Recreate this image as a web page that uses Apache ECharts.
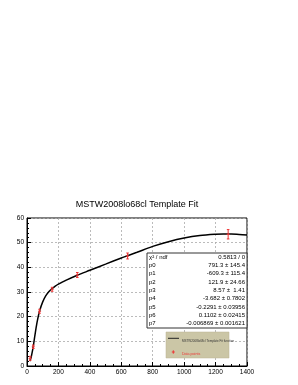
<!DOCTYPE html>
<html><head><meta charset="utf-8">
<script src="https://cdn.jsdelivr.net/npm/echarts@6/dist/echarts.min.js"></script>
<style>html,body{margin:0;padding:0;background:#fff}#c{width:298px;height:385px}</style>
</head><body><div id="c"></div>
<script>
// Data points (x, y, error)
var pointX = [20, 40, 80, 160, 320, 640, 1280];
var pointY = [3.1, 7.8, 22.2, 31.1, 36.9, 44.6, 53.4];
var pointErr = [0.8, 0.7, 0.8, 0.8, 1.0, 1.2, 1.9];
// Fit curve
var curveX = [17, 20, 25, 30, 40, 50, 60, 70, 80, 100, 120, 140, 160, 180, 200, 250, 320, 400, 500, 600, 640, 700, 800, 900, 1000, 1100, 1200, 1250, 1300, 1350, 1400];
var curveY = [2.0, 2.3, 3.2, 4.6, 8.0, 12.3, 16.3, 19.6, 22.3, 26.0, 28.5, 30.2, 31.4, 32.4, 33.2, 34.8, 36.8, 38.8, 41.3, 43.8, 44.7, 46.1, 48.5, 50.4, 51.9, 52.9, 53.4, 53.5, 53.5, 53.3, 53.1];
// Axis ticks
var xTicks = [0, 200, 400, 600, 800, 1000, 1200, 1400];
var yTicks = [0, 10, 20, 30, 40, 50, 60];
// Stats box
var statNames = ['\u03C7\u00B2 / ndf', 'p0', 'p1', 'p2', 'p3', 'p4', 'p5', 'p6', 'p7'];
var statValues = ['0.5813 / 0', '791.3 \u00B1 145.4', '-609.3 \u00B1 115.4', '121.9 \u00B1 24.66', '8.57 \u00B1  1.41', '-3.682 \u00B1 0.7802', '-0.2291 \u00B1 0.03956', '0.1102 \u00B1 0.02415', '-0.006869 \u00B1 0.001621'];
var titleText = 'MSTW2008lo68cl Template Fit';
var legendLabels = ['MSTW2008lo68cl Template Fit function', 'Data points'];

var FONT = 'Liberation Sans, Arial, sans-serif';
var chart = echarts.init(document.getElementById('c'), null, {renderer: 'canvas'});

var curveData = curveX.map(function (x, i) { return [x, curveY[i]]; });
var pointData = pointX.map(function (x, i) { return [x, pointY[i], pointErr[i]]; });

var graphics = [];
graphics.push({type: 'text', x: 137, y: 205, style: {text: titleText, font: '9px ' + FONT, fill: '#000', textAlign: 'center', textVerticalAlign: 'middle'}});
// stats box
var bx = 147, by = 253, bw = 100, bh = 75;
graphics.push({type: 'rect', shape: {x: bx, y: by, width: bw, height: bh}, style: {fill: '#fff', stroke: '#333', lineWidth: 1}, z: 100});
var rowH = bh / statNames.length;
statNames.forEach(function (n, i) {
  var cy = by + rowH * (i + 0.5);
  graphics.push({type: 'text', x: bx + 2, y: cy, style: {text: n, font: '6px ' + FONT, fill: '#000', textVerticalAlign: 'middle'}, z: 101});
  graphics.push({type: 'text', x: bx + bw - 2, y: cy, style: {text: statValues[i], font: '6px ' + FONT, fill: '#000', textAlign: 'right', textVerticalAlign: 'middle'}, z: 101});
});
// legend box
graphics.push({type: 'rect', shape: {x: 166, y: 332, width: 63, height: 26}, style: {fill: '#cbc6a6', stroke: '#b8b393', lineWidth: 0.5}, z: 100});
graphics.push({type: 'line', shape: {x1: 168, y1: 338.3, x2: 179, y2: 338.3}, style: {stroke: '#222', lineWidth: 1}, z: 101});
graphics.push({type: 'text', x: 182, y: 340.7, style: {text: legendLabels[0], font: '3px ' + FONT, fill: '#333', textVerticalAlign: 'middle'}, z: 101});
graphics.push({type: 'line', shape: {x1: 173.3, y1: 350.3, x2: 173.3, y2: 353.7}, style: {stroke: '#e33', lineWidth: 1}, z: 101});
graphics.push({type: 'line', shape: {x1: 171.8, y1: 352, x2: 174.8, y2: 352}, style: {stroke: '#e33', lineWidth: 1}, z: 101});
graphics.push({type: 'text', x: 182, y: 354, style: {text: legendLabels[1], font: '3.6px ' + FONT, fill: '#e33', textVerticalAlign: 'middle'}, z: 101});

var option = {
  animation: false,
  backgroundColor: '#fff',
  grid: {left: 27, top: 218, width: 220, height: 148, show: true, borderColor: '#000', borderWidth: 1, backgroundColor: 'transparent'},
  xAxis: {
    type: 'value', min: xTicks[0], max: xTicks[xTicks.length - 1], interval: 200,
    axisLine: {show: true, lineStyle: {color: '#000', width: 1}},
    axisTick: {show: true, inside: true, length: 4, lineStyle: {color: '#000'}},
    minorTick: {show: true, splitNumber: 4, length: 2, lineStyle: {color: '#000'}},
    splitLine: {show: true, lineStyle: {color: '#aaa', type: [2, 2], width: 0.8}},
    axisLabel: {fontSize: 6.5, fontFamily: FONT, color: '#000', margin: 3, formatter: function (v) { return String(v); }}
  },
  yAxis: {
    type: 'value', min: yTicks[0], max: yTicks[yTicks.length - 1], interval: 10,
    axisLine: {show: true, lineStyle: {color: '#000', width: 1}},
    axisTick: {show: true, inside: true, length: 4, lineStyle: {color: '#000'}},
    minorTick: {show: true, splitNumber: 5, length: 2, lineStyle: {color: '#000'}},
    splitLine: {show: true, lineStyle: {color: '#aaa', type: [2, 2], width: 0.8}},
    axisLabel: {fontSize: 6.5, fontFamily: FONT, color: '#000', margin: 3, formatter: function (v) { return String(v); }}
  },
  series: [
    {type: 'line', data: curveData, smooth: 0.3, showSymbol: false, lineStyle: {color: '#000', width: 1.5}, z: 5},
    {type: 'custom', data: pointData, z: 6,
      renderItem: function (params, api) {
        var x = api.value(0), y = api.value(1), e = api.value(2);
        var top = api.coord([x, y + e]), bot = api.coord([x, y - e]), mid = api.coord([x, y]);
        var c = 1.3;
        var st = {stroke: '#e33', lineWidth: 1};
        return {type: 'group', children: [
          {type: 'line', shape: {x1: top[0], y1: top[1], x2: bot[0], y2: bot[1]}, style: st},
          {type: 'line', shape: {x1: top[0] - c, y1: top[1], x2: top[0] + c, y2: top[1]}, style: st},
          {type: 'line', shape: {x1: bot[0] - c, y1: bot[1], x2: bot[0] + c, y2: bot[1]}, style: st},
          {type: 'line', shape: {x1: mid[0] - 1.5, y1: mid[1], x2: mid[0] + 1.5, y2: mid[1]}, style: st}
        ]};
      }
    }
  ],
  graphic: graphics
};
chart.setOption(option);
</script>
</body></html>
